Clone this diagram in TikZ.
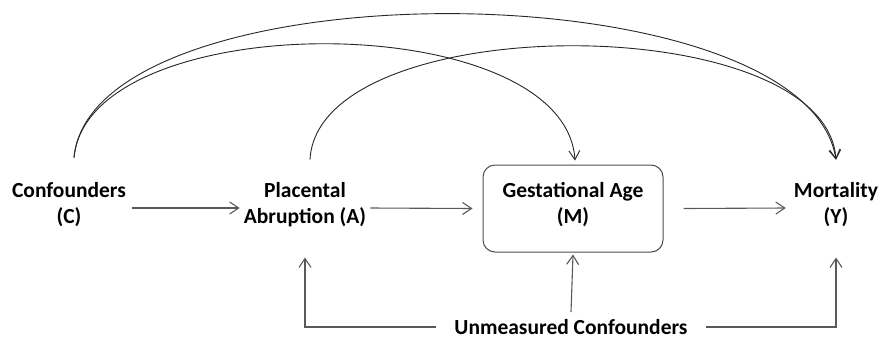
\documentclass[tikz,border=0pt]{standalone}
\usepackage{fontspec}
\setmainfont{Carlito}
\usetikzlibrary{arrows.meta}
\begin{document}
\begin{tikzpicture}[x=1pt,y=-1pt,
  lbl/.style={inner sep=0pt, align=center, font=\fontsize{21.5}{26}\selectfont\bfseries},
  arr/.style={draw=black!65, line width=1.1pt, -{Straight Barb[length=9pt,width=12pt]}},
  arc/.style={draw=black!85, line width=0.9pt, -{Straight Barb[length=9pt,width=11pt]}},
  mbox/.style={draw=black!70, line width=1pt, rounded corners=12pt, minimum width=180pt, minimum height=87pt, inner sep=0pt}]
\useasboundingbox (0,0) rectangle (880,341);
\node[lbl] (C) at (69,205) {Confounders\\(C)};
\node[lbl] (A) at (305,205) {Placental\\Abruption (A)};
\node[mbox] (M) at (573,208.5) {};
\node[lbl] (Mt) at (573,205) {Gestational Age\\(M)};
\node[lbl] (Y) at (836,205) {Mortality\\(Y)};
\node[lbl] (U) at (571,327) {Unmeasured Confounders};
% horizontal arrows
\draw[arr] ([xshift=6pt,yshift=-3pt]C.east) -- ([xshift=-4pt,yshift=-3pt]A.west);
\draw[arr] ([xshift=4pt,yshift=-3pt]A.east) -- ([xshift=-10pt]M.west);
\draw[arr] ([xshift=20pt]M.east) -- ([xshift=-8pt,yshift=-3pt]Y.west);
% unmeasured confounders
\draw[arr] ([xshift=-18pt]U.west) -| ([yshift=-5pt]A.south |- M.south);
\draw[arr] ([xshift=18pt]U.east) -| ([yshift=-5pt]Y.south |- M.south);
\draw[arr] ([yshift=7pt]U.north) -- ([yshift=-2pt]M.south);
% curved arrows
\draw[arc] ([xshift=5pt,yshift=25pt]C.north) .. controls (92,-36) and (805,-33) .. ([yshift=23pt]Y.north);
\draw[arc] ([xshift=5pt,yshift=25pt]C.north) .. controls (88,5) and (565,6) .. ([xshift=2pt,yshift=4pt]M.north);
\draw[arc] ([xshift=5pt,yshift=23pt]A.north) .. controls (318,8) and (825,8) .. ([yshift=23pt]Y.north);
\end{tikzpicture}
\end{document}
